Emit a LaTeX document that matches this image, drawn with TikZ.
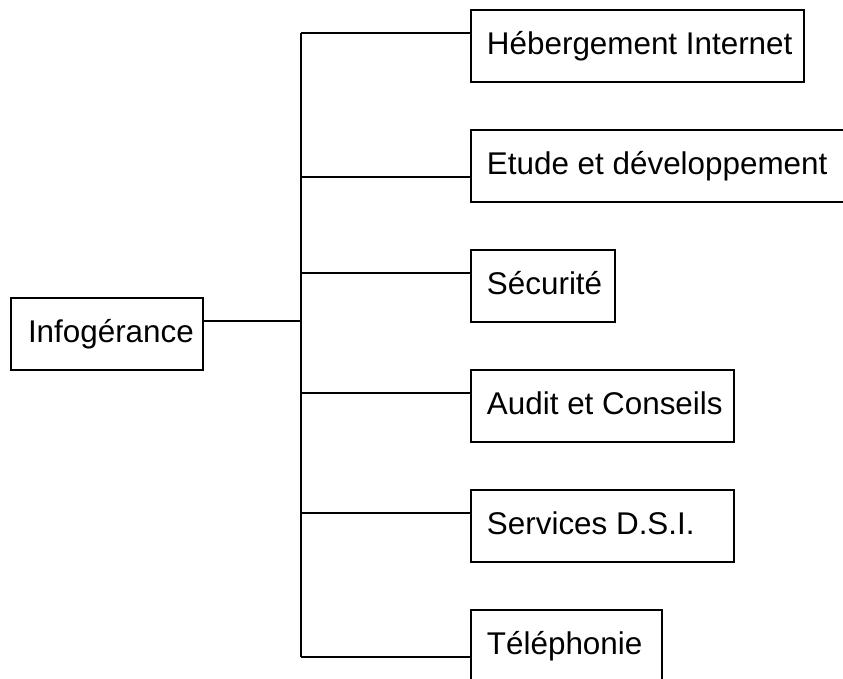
\documentclass[tikz,border=0pt]{standalone}
\usepackage{fontspec}
\setmainfont{Liberation Sans}
\begin{document}
\begin{tikzpicture}[x=0.5pt,y=-0.5pt,line width=1pt,
  box/.style={draw,line width=1pt,rectangle,anchor=north west,minimum height=36pt,inner sep=0pt},
  lbl/.style={anchor=base west,inner sep=0pt,font=\fontsize{15.7}{18}\selectfont},
  wire/.style={draw,line width=1pt}]
\useasboundingbox (0,0) rectangle (843,679);
\clip (0,0) rectangle (843,679);
% boxes
\node[box,minimum width=96pt] (info) at (10,297) {};
\node[box,minimum width=166.5pt] (heb) at (470,9) {};
\node[box,minimum width=195pt] (etu) at (470,129) {};
\node[box,minimum width=72pt] (sec) at (470,249) {};
\node[box,minimum width=131.5pt] (aud) at (470,369) {};
\node[box,minimum width=131.5pt] (ser) at (470,489) {};
\node[box,minimum width=95.5pt] (tel) at (470,609) {};
% labels
\node[lbl] (tinfo) at ([xshift=8.5pt,yshift=-23pt]info.north west) {Infogérance};
\node[lbl] (theb) at ([xshift=8pt,yshift=-23pt]heb.north west) {Hébergement Internet};
\node[lbl] (tetu) at ([xshift=8pt,yshift=-23pt]etu.north west) {Etude et développement};
\node[lbl] (tsec) at ([xshift=8pt,yshift=-23pt]sec.north west) {Sécurité};
\node[lbl] (taud) at ([xshift=8pt,yshift=-23pt]aud.north west) {Audit et Conseils};
\node[lbl] (tser) at ([xshift=8pt,yshift=-23pt]ser.north west) {Services D.S.I.};
\node[lbl] (ttel) at ([xshift=8pt,yshift=-23pt]tel.north west) {Téléphonie};
% trunk coordinates
\coordinate (t1) at (301,33);
\coordinate (t2) at (301,177);
\coordinate (t3) at (301,273);
\coordinate (t4) at (301,393);
\coordinate (t5) at (301,513);
\coordinate (t6) at (301,657);
\coordinate (t0) at (301,321);
% connectors
\draw[wire] (t1) -- (t6);
\draw[wire] (info.east |- t0) -- (t0);
\draw[wire] (t1) -- (heb.west |- t1);
\draw[wire] (t2) -- (etu.west |- t2);
\draw[wire] (t3) -- (sec.west |- t3);
\draw[wire] (t4) -- (aud.west |- t4);
\draw[wire] (t5) -- (ser.west |- t5);
\draw[wire] (t6) -- (tel.west |- t6);
\end{tikzpicture}
\end{document}
